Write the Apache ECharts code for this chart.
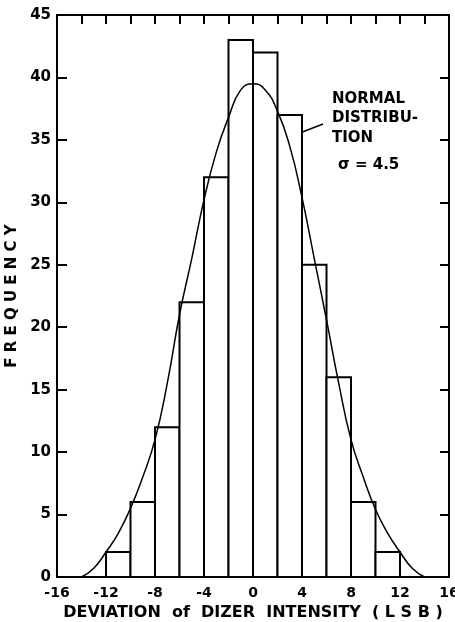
<!DOCTYPE html>
<html>
<head>
<meta charset="utf-8">
<script src="https://cdn.jsdelivr.net/npm/echarts@6/dist/echarts.min.js"></script>
<style>
  html, body { margin: 0; padding: 0; background: #fff; }
  #chart { width: 455px; height: 622px; }
</style>
</head>
<body>
<div id="chart"></div>
<script>
  // histogram bins (left edge, width 2) and counts
  const binStarts = [-12, -10, -8, -6, -4, -2, 0, 2, 4, 6, 8, 10];
  const binCounts = [2, 6, 12, 22, 32, 43, 42, 37, 25, 16, 6, 2];
  const binWidth = 2;

  // normal curve
  const curveX = [-14, -13, -12, -11, -10, -9, -8, -7, -6, -5, -4, -3, -2, -1, 0, 1, 2, 3, 4, 5, 6, 7, 8, 9, 10, 11, 12, 13, 14];
  const curveY = [0, 0.7, 2, 3.5, 5.5, 8, 11, 15.5, 21, 25.5, 30.2, 34, 36.8, 39, 39.5, 39, 37.3, 34.5, 30.4, 25.5, 20.6, 15.5, 11, 8, 5.4, 3.5, 2, 0.7, 0];

  const chart = echarts.init(document.getElementById('chart'));
  const font = 'DejaVu Sans';

  const option = {
    animation: false,
    grid: { left: 57, right: 6, top: 15, bottom: 45, outerBoundsMode: 'none' },
    xAxis: [
      {
        type: 'value', min: -16, max: 16, interval: 4,
        axisLine: { onZero: false, lineStyle: { color: '#000', width: 2 } },
        axisTick: { show: false },
        splitLine: { show: false },
        axisLabel: { color: '#000', fontFamily: font, fontWeight: 'bold', fontSize: 14, margin: 9 },
        name: 'DEVIATION  of  DIZER  INTENSITY  ( L S B )',
        nameLocation: 'middle', nameGap: 25,
        nameTextStyle: { color: '#000', fontFamily: font, fontWeight: 'bold', fontSize: 16 }
      },
      {
        type: 'value', min: -16, max: 16, interval: 2, position: 'top',
        axisLine: { show: true, onZero: false, lineStyle: { color: '#000', width: 2 } },
        axisTick: { show: true, inside: true, length: 9, lineStyle: { color: '#000', width: 2 } },
        axisLabel: { show: false },
        splitLine: { show: false }
      }
    ],
    yAxis: [
      {
        type: 'value', min: 0, max: 45, interval: 5,
        axisLine: { show: true, onZero: false, lineStyle: { color: '#000', width: 2 } },
        axisTick: { show: true, inside: true, length: 10, lineStyle: { color: '#000', width: 2 } },
        splitLine: { show: false },
        axisLabel: { color: '#000', fontFamily: font, fontWeight: 'bold', fontSize: 15, margin: 6 },
        name: 'F R E Q U E N C Y',
        nameLocation: 'middle', nameGap: 35, nameRotate: 90,
        nameTextStyle: { color: '#000', fontFamily: font, fontWeight: 'bold', fontSize: 15 }
      },
      {
        type: 'value', min: 0, max: 45, interval: 5, position: 'right',
        axisLine: { show: true, onZero: false, lineStyle: { color: '#000', width: 2 } },
        axisTick: { show: true, inside: true, length: 9, lineStyle: { color: '#000', width: 2 } },
        axisLabel: { show: false },
        splitLine: { show: false }
      }
    ],
    series: [
      {
        type: 'custom',
        data: binStarts.map((x, i) => [x, binCounts[i]]),
        renderItem: function (params, api) {
          const x0 = api.value(0);
          const p0 = api.coord([x0, api.value(1)]);
          const p1 = api.coord([x0 + binWidth, 0]);
          return {
            type: 'rect',
            shape: { x: p0[0], y: p0[1], width: p1[0] - p0[0], height: p1[1] - p0[1] },
            style: { fill: '#fff', stroke: '#000', lineWidth: 2 }
          };
        }
      },
      {
        type: 'line',
        smooth: true,
        symbol: 'none',
        data: curveX.map((x, i) => [x, curveY[i]]),
        lineStyle: { color: '#000', width: 1.5 },
        z: 5
      }
    ],
    graphic: [
      {
        type: 'group',
        children: [
          { type: 'text', left: 332, top: 92, style: { text: 'NORMAL', font: 'bold 15px DejaVu Sans', fill: '#000' } },
          { type: 'text', left: 332, top: 111, style: { text: 'DISTRIBU-', font: 'bold 15px DejaVu Sans', fill: '#000' } },
          { type: 'text', left: 332, top: 131, style: { text: 'TION', font: 'bold 15px DejaVu Sans', fill: '#000' } },
          { type: 'text', left: 338, top: 158, style: { text: 'σ = 4.5', font: 'bold 15px DejaVu Sans', fill: '#000' } },
          { type: 'line', shape: { x1: 323, y1: 124, x2: 287, y2: 138 }, style: { stroke: '#000', lineWidth: 1.5 } }
        ]
      }
    ]
  };

  chart.setOption(option);
</script>
</body>
</html>
